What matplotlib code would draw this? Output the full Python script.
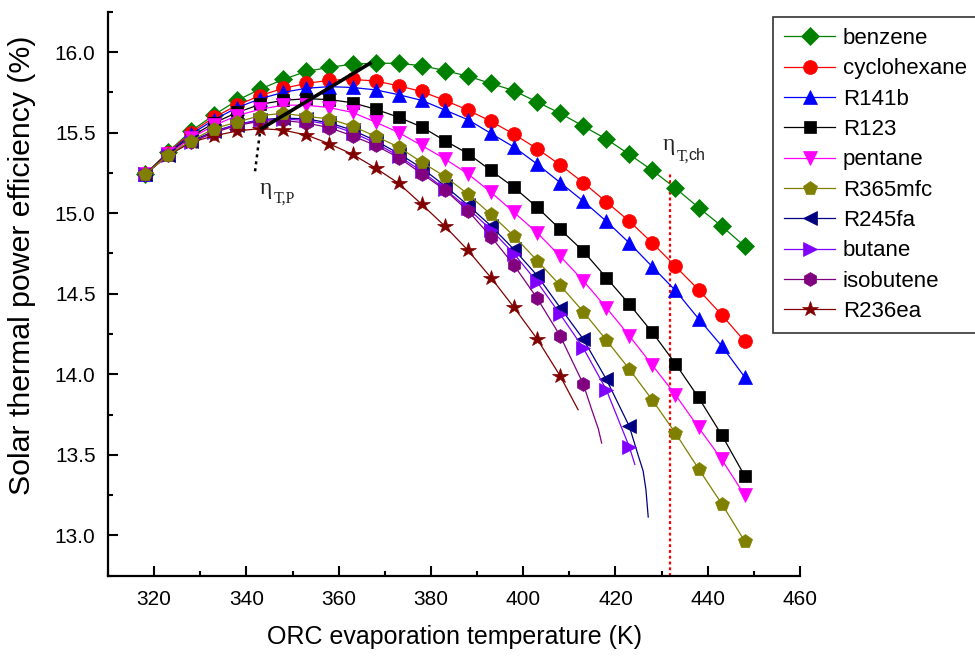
import matplotlib
matplotlib.use("Agg")
import matplotlib.pyplot as plt
from matplotlib.ticker import MultipleLocator

plt.rcParams['font.family'] = ['Liberation Sans', 'DejaVu Sans']

# ORC evaporation temperatures (K)
temps = [318, 323, 328, 333, 338, 343, 348, 353, 358, 363, 368, 373, 378, 383,
         388, 393, 398, 403, 408, 413, 418, 423, 428, 433, 438, 443, 448]

# Solar thermal power efficiency (%) per working fluid
benzene = [15.24, 15.38, 15.51, 15.61, 15.70, 15.77, 15.83, 15.88, 15.905, 15.925,
           15.93, 15.93, 15.915, 15.885, 15.85, 15.805, 15.76, 15.69, 15.62, 15.54,
           15.46, 15.365, 15.265, 15.155, 15.035, 14.92, 14.795]
cyclohexane = [15.24, 15.375, 15.50, 15.595, 15.67, 15.73, 15.775, 15.805, 15.825, 15.83,
               15.82, 15.79, 15.755, 15.70, 15.64, 15.57, 15.49, 15.40, 15.30, 15.19,
               15.07, 14.95, 14.815, 14.67, 14.525, 14.37, 14.205]
r141b = [15.24, 15.37, 15.49, 15.58, 15.655, 15.71, 15.75, 15.775, 15.785, 15.78,
         15.765, 15.735, 15.70, 15.64, 15.58, 15.495, 15.41, 15.305, 15.19, 15.075,
         14.95, 14.815, 14.667, 14.52, 14.345, 14.177, 13.983]
r123 = [15.24, 15.37, 15.475, 15.56, 15.625, 15.675, 15.70, 15.71, 15.705, 15.685,
        15.645, 15.595, 15.535, 15.45, 15.37, 15.265, 15.16, 15.037, 14.90, 14.765,
        14.60, 14.435, 14.26, 14.066, 13.856, 13.625, 13.37]
pentane = [15.24, 15.365, 15.465, 15.545, 15.605, 15.645, 15.67, 15.67, 15.655, 15.625,
           15.565, 15.50, 15.42, 15.337, 15.244, 15.13, 15.005, 14.879, 14.733, 14.581,
           14.414, 14.239, 14.056, 13.873, 13.67, 13.473, 13.25]
r365mfc = [15.24, 15.36, 15.45, 15.525, 15.565, 15.605, 15.62, 15.60, 15.585, 15.54,
           15.477, 15.41, 15.316, 15.228, 15.119, 14.992, 14.858, 14.706, 14.552, 14.389,
           14.213, 14.032, 13.84, 13.635, 13.414, 13.198, 12.965]
r245fa = [15.24, 15.36, 15.445, 15.51, 15.55, 15.58, 15.59, 15.585, 15.56, 15.515,
          15.45, 15.37, 15.28, 15.17, 15.05, 14.921, 14.775, 14.614, 14.414, 14.219,
          13.97, 13.677]
butane = [15.24, 15.36, 15.44, 15.505, 15.55, 15.575, 15.585, 15.575, 15.55, 15.50,
          15.435, 15.355, 15.26, 15.15, 15.03, 14.898, 14.748, 14.573, 14.373, 14.164,
          13.905, 13.55]
isobutene = [15.24, 15.36, 15.44, 15.50, 15.545, 15.57, 15.575, 15.56, 15.53, 15.48,
             15.42, 15.345, 15.245, 15.145, 15.015, 14.855, 14.677, 14.473, 14.239, 13.941]
r236ea = [15.24, 15.36, 15.44, 15.48, 15.51, 15.525, 15.515, 15.485, 15.43, 15.365,
          15.28, 15.185, 15.055, 14.92, 14.77, 14.60, 14.415, 14.22, 13.99]

# Curve ends past the last marked point (near the critical limit)
r245fa_tail_t = [425.0, 426.0, 426.6, 427.1]
r245fa_tail_eff = [13.49, 13.40, 13.285, 13.114]
butane_tail_t = [424.2]
butane_tail_eff = [13.44]
isobutene_tail_t = [414.8, 416.3, 417.0]
isobutene_tail_eff = [13.785, 13.66, 13.573]
r236ea_tail_t = [411.9]
r236ea_tail_eff = [13.78]

# Maximum-efficiency trend and pinch/critical markers
peak_line_t = [343.0, 367.1]
peak_line_eff = [15.52, 15.935]
peak_drop_t = [342.9, 341.8]
peak_drop_eff = [15.494, 15.244]
t_ch = 431.8
t_ch_top = 15.24

series = [
    ("benzene", benzene, None, None, '#008000', 'D', 9.6),
    ("cyclohexane", cyclohexane, None, None, '#FF0000', 'o', 10.0),
    ("R141b", r141b, None, None, '#0000FF', '^', 10.5),
    ("R123", r123, None, None, '#000000', 's', 8.5),
    ("pentane", pentane, None, None, '#FF00FF', 'v', 10.5),
    ("R365mfc", r365mfc, None, None, '#808000', 'p', 10.5),
    ("R245fa", r245fa, r245fa_tail_t, r245fa_tail_eff, '#000080', '<', 10.5),
    ("butane", butane, butane_tail_t, butane_tail_eff, '#8000FF', '>', 10.5),
    ("isobutene", isobutene, isobutene_tail_t, isobutene_tail_eff, '#800080', 'h', 10.0),
    ("R236ea", r236ea, r236ea_tail_t, r236ea_tail_eff, '#800000', '*', 11.5),
]

fig = plt.figure(figsize=(9.75, 6.59), dpi=100)
ax = fig.add_axes([0.1108, 0.1264, 0.7097, 0.8558])

for i, (name, eff, tail_t, tail_e, color, marker, ms) in enumerate(series):
    n = len(eff)
    xs = temps[:n] + (tail_t if tail_t else [])
    ys = eff + (tail_e if tail_e else [])
    z = 3 + i * 0.1
    if name == "R365mfc":
        z = 5
    ax.plot(xs, ys, color=color, lw=0.9, marker=marker, ms=ms,
            mfc=color, mec=color, mew=0.5, markevery=list(range(n)),
            label=name, zorder=z)

ax.plot(peak_line_t, peak_line_eff, color='black', lw=2.6, solid_capstyle='butt', zorder=6)
ax.plot(peak_drop_t, peak_drop_eff, color='black', lw=1.8, ls=(0, (1.2, 1.6)), zorder=6)
ax.plot([t_ch, t_ch], [12.75, t_ch_top], color='#FF0000', lw=1.6, ls=(0, (1.3, 1.3)),
        zorder=2)

# Efficiency symbols: upright serif eta with subscripts
serif = ['Liberation Serif', 'DejaVu Serif']
ann_color = '#222222'
ax.text(342.9, 15.121, 'η', fontsize=17, family=serif, ha='left', va='baseline',
        color=ann_color, zorder=7)
ax.text(345.95, 15.064, 'T,P', fontsize=11.5, family=serif, ha='left', va='baseline',
        color=ann_color, zorder=7)
ax.text(430.3, 15.389, 'η', fontsize=17, family=serif, ha='left', va='baseline',
        color=ann_color, zorder=7)
ax.text(433.3, 15.327, 'T,', fontsize=11.5, family=serif, ha='left', va='baseline',
        color=ann_color, zorder=7)
ax.text(435.9, 15.327, 'ch', fontsize=11.5, ha='left', va='baseline',
        color=ann_color, zorder=7)

ax.set_xlim(310, 460)
ax.set_ylim(12.75, 16.25)
ax.xaxis.set_major_locator(MultipleLocator(20))
ax.xaxis.set_minor_locator(MultipleLocator(10))
ax.yaxis.set_major_locator(MultipleLocator(0.5))
ax.yaxis.set_minor_locator(MultipleLocator(0.25))
ax.yaxis.set_major_formatter(plt.FormatStrFormatter('%.1f'))

for side in ('top', 'right'):
    ax.spines[side].set_visible(False)
for side in ('left', 'bottom'):
    ax.spines[side].set_linewidth(1.6)

ax.tick_params(which='both', direction='in', width=1.5, labelsize=15)
ax.tick_params(which='major', length=7.5)
ax.tick_params(which='minor', length=3.8)
ax.tick_params(axis='x', which='major', pad=10)
ax.tick_params(axis='y', which='major', pad=9)

ax.set_xlabel('ORC evaporation temperature (K)', fontsize=18, labelpad=12)
ax.set_ylabel('Solar thermal power efficiency (%)', fontsize=21.8)
ax.yaxis.set_label_coords(-0.104, 0.55)

leg = fig.legend(loc='upper left', bbox_to_anchor=(773 / 975, 1 - 17 / 659),
                 fontsize=16, frameon=True, fancybox=False, borderpad=0.5,
                 handlelength=2.3, handletextpad=0.35, labelspacing=0.42,
                 borderaxespad=0)
leg.get_frame().set_edgecolor('black')
leg.get_frame().set_linewidth(1.2)

fig.savefig('out.png', dpi=100, facecolor='white')
